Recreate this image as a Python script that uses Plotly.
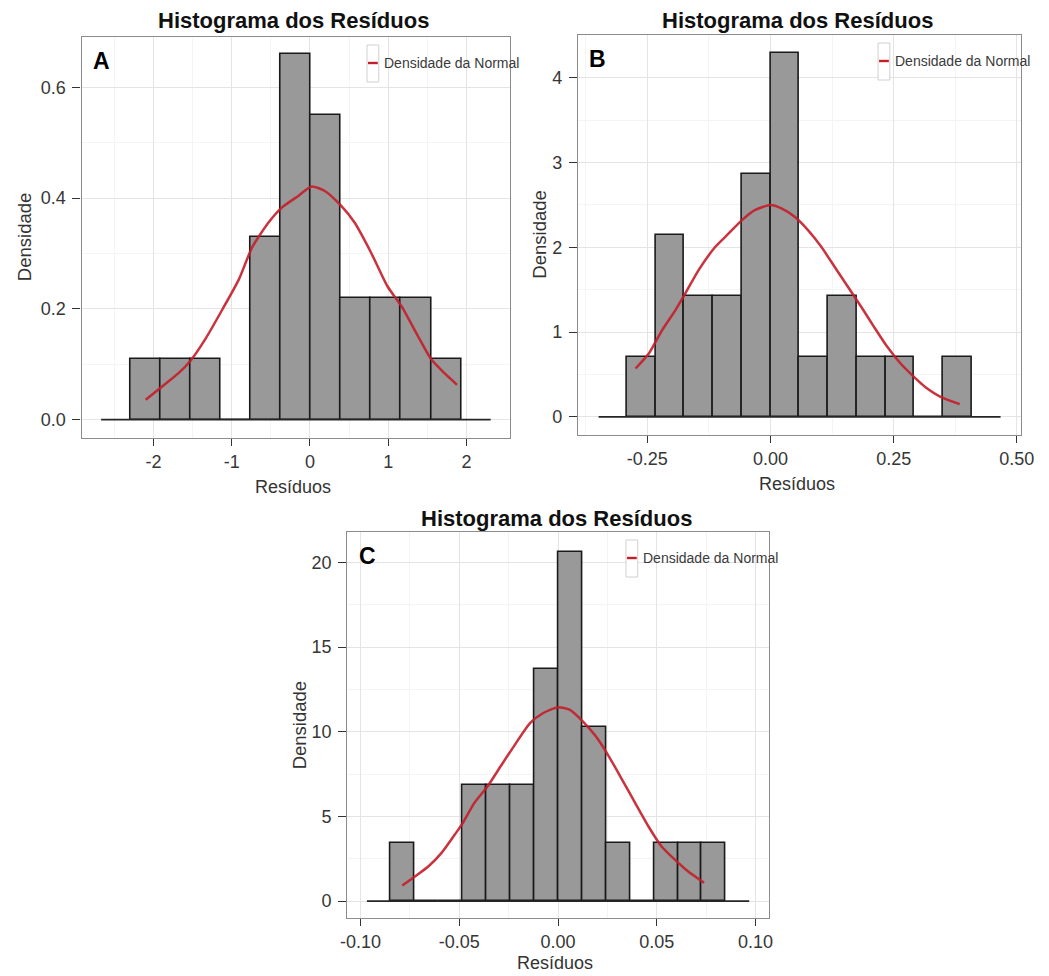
import plotly.graph_objects as go

# ---------------- data ----------------
# Panel A
edges_A = [-2.296, -1.912, -1.527, -1.143, -0.758, -0.374, 0.011, 0.395, 0.780, 1.164, 1.549, 1.933]
dens_A = [0.11, 0.11, 0.11, 0.0, 0.33, 0.66, 0.55, 0.22, 0.22, 0.22, 0.11]
curve_x_A = [-2.10, -1.89, -1.68, -1.53, -1.34, -1.12, -0.91, -0.74, -0.53, -0.36, -0.15, 0.02,
             0.19, 0.40, 0.57, 0.78, 0.99, 1.17, 1.38, 1.55, 1.72, 1.88]
curve_y_A = [0.036, 0.060, 0.084, 0.106, 0.145, 0.199, 0.253, 0.311, 0.356, 0.383, 0.404, 0.421,
             0.413, 0.386, 0.356, 0.302, 0.241, 0.205, 0.151, 0.109, 0.084, 0.063]
base_A = [-2.67, 2.31]
xticks_A = [-2, -1, 0, 1, 2]
xtick_text_A = ["-2", "-1", "0", "1", "2"]
yticks_A = [0.0, 0.2, 0.4, 0.6]
ytick_text_A = ["0.0", "0.2", "0.4", "0.6"]

# Panel B
edges_B = [-0.2915, -0.2332, -0.1749, -0.1166, -0.0583, 0.0, 0.0583, 0.1166, 0.1749, 0.2332,
           0.2915, 0.3498, 0.4081]
dens_B = [0.71, 2.14, 1.43, 1.43, 2.86, 4.29, 0.71, 1.43, 0.71, 0.71, 0.0, 0.71]
curve_x_B = [-0.274, -0.247, -0.220, -0.193, -0.173, -0.146, -0.112, -0.085, -0.058, -0.032, 0.0,
             0.022, 0.049, 0.076, 0.103, 0.130, 0.157, 0.184, 0.210, 0.237, 0.264, 0.291, 0.318,
             0.345, 0.384]
curve_y_B = [0.570, 0.747, 1.023, 1.259, 1.456, 1.731, 2.006, 2.163, 2.321, 2.439, 2.498,
             2.459, 2.360, 2.203, 2.006, 1.770, 1.534, 1.298, 1.062, 0.826, 0.629, 0.472, 0.334,
             0.236, 0.150]
base_B = [-0.349, 0.467]
xticks_B = [-0.25, 0.0, 0.25, 0.5]
xtick_text_B = ["-0.25", "0.00", "0.25", "0.50"]
yticks_B = [0, 1, 2, 3, 4]
ytick_text_B = ["0", "1", "2", "3", "4"]

# Panel C
edges_C = [-0.0849, -0.0728, -0.0607, -0.0486, -0.0364, -0.0243, -0.0121, 0.0, 0.0121, 0.0243,
           0.0364, 0.0486, 0.0607, 0.0728, 0.0849]
dens_C = [3.43, 0.0, 0.0, 6.86, 6.86, 6.86, 13.7, 20.6, 10.3, 3.43, 0.0, 3.43, 3.43, 3.43]
curve_x_C = [-0.0789, -0.0723, -0.0656, -0.0590, -0.0523, -0.0482, -0.0424, -0.0357, -0.0291,
             -0.0224, -0.0141, -0.0075, 0.0, 0.0058, 0.0125, 0.0191, 0.0257, 0.0324, 0.0390,
             0.0457, 0.0523, 0.0590, 0.0656, 0.0739]
curve_y_C = [0.92, 1.47, 2.06, 2.85, 3.93, 4.62, 5.80, 6.78, 7.96, 9.14, 10.52, 11.11, 11.45,
             11.31, 10.62, 9.73, 8.55, 7.18, 5.80, 4.42, 3.24, 2.46, 1.77, 1.08]
base_C = [-0.0968, 0.0968]
xticks_C = [-0.10, -0.05, 0.0, 0.05, 0.10]
xtick_text_C = ["-0.10", "-0.05", "0.00", "0.05", "0.10"]
yticks_C = [0, 5, 10, 15, 20]
ytick_text_C = ["0", "5", "10", "15", "20"]

title_text = "Histograma dos Resíduos"
x_label = "Resíduos"
y_label = "Densidade"
legend_label = "Densidade da Normal"

# ---------------- layout helpers ----------------
W, H = 1049, 976
FONT = "Liberation Sans, Arial, Helvetica, sans-serif"
BAR_FILL = "#999999"
BAR_EDGE = "#1a1a1a"
RED = "#C41E2A"


def fx(p):
    return p / W


def fy(p):
    return 1 - p / H


panels = [
    dict(key="A", edges=edges_A, dens=dens_A, cx=curve_x_A, cy=curve_y_A, base=base_A,
         xt=xticks_A, xtt=xtick_text_A, yt=yticks_A, ytt=ytick_text_A,
         box=(76, 513, 37, 438), xr=[-2.92, 2.56], yr=[-0.033, 0.691],
         xminor=[-2.5, -1.5, -0.5, 0.5, 1.5], yminor=[0.1, 0.3, 0.5],
         title_y=21, xt_y=487, yt_x=18),
    dict(key="B", edges=edges_B, dens=dens_B, cx=curve_x_B, cy=curve_y_B, base=base_B,
         xt=xticks_B, xtt=xtick_text_B, yt=yticks_B, ytt=ytick_text_B,
         box=(582, 1034, 35, 435), xr=[-0.391, 0.509], yr=[-0.2145, 4.5045],
         xminor=[-0.375, -0.125, 0.125, 0.375], yminor=[0.5, 1.5, 2.5, 3.5],
         title_y=21, xt_y=484, yt_x=542),
    dict(key="C", edges=edges_C, dens=dens_C, cx=curve_x_C, cy=curve_y_C, base=base_C,
         xt=xticks_C, xtt=xtick_text_C, yt=yticks_C, ytt=ytick_text_C,
         box=(347, 777, 532, 918), xr=[-0.1067, 0.1069], yr=[-1.0, 21.8],
         xminor=[-0.075, -0.025, 0.025, 0.075], yminor=[2.5, 7.5, 12.5, 17.5],
         title_y=518, xt_y=963, yt_x=298),
]

fig = go.Figure()
annotations = []
shapes = []

for i, p in enumerate(panels):
    n = "" if i == 0 else str(i + 1)
    xa, ya = "x" + n, "y" + n
    edges = p["edges"]
    mids = [(a + b) / 2 for a, b in zip(edges[:-1], edges[1:])]
    widths = [b - a for a, b in zip(edges[:-1], edges[1:])]

    fig.add_trace(go.Bar(x=mids, y=p["dens"], width=widths, xaxis=xa, yaxis=ya,
                         marker=dict(color=BAR_FILL, line=dict(color=BAR_EDGE, width=1.6)),
                         showlegend=False, hoverinfo="x+y"))
    fig.add_trace(go.Scatter(x=p["base"], y=[0, 0], mode="lines", xaxis=xa, yaxis=ya,
                             line=dict(color="#262626", width=1.7), showlegend=False,
                             hoverinfo="skip"))
    fig.add_trace(go.Scatter(x=p["cx"], y=p["cy"], mode="lines", xaxis=xa, yaxis=ya,
                             line=dict(color=RED, width=2.5, shape="spline", smoothing=0.6),
                             opacity=0.9, name=legend_label, showlegend=False))

    left, right, top, bottom = p["box"]
    axis_common = dict(showline=True, mirror=True, linecolor="#8c8c8c", linewidth=1.3,
                       showgrid=True, gridcolor="#E4E4E4", gridwidth=1, zeroline=False,
                       ticks="outside", tickwidth=1.4, tickcolor="#333333",
                       tickfont=dict(family=FONT, size=18, color="#363636"),
                       fixedrange=True)
    fig.layout["xaxis" + n] = dict(
        domain=[fx(left), fx(right)], anchor=ya, range=p["xr"], ticklen=7,
        tickmode="array", tickvals=p["xt"], ticktext=p["xtt"],
        minor=dict(tickvals=p["xminor"], showgrid=True, gridcolor="#F4F4F4", ticks=""),
        **axis_common)
    fig.layout["yaxis" + n] = dict(
        domain=[fy(bottom), fy(top)], anchor=xa, range=p["yr"], ticklen=8,
        ticklabelstandoff=3,
        tickmode="array", tickvals=p["yt"], ticktext=p["ytt"],
        minor=dict(tickvals=p["yminor"], showgrid=True, gridcolor="#F4F4F4", ticks=""),
        **axis_common)

    cxp = (left + right) / 2
    cyp = (top + bottom) / 2
    # panel title
    annotations.append(dict(text="<b>%s</b>" % title_text, x=fx(cxp - 2), y=fy(p["title_y"]),
                            xref="paper", yref="paper", showarrow=False,
                            xanchor="center", yanchor="middle",
                            font=dict(family=FONT, size=22, color="#111111")))
    # axis titles
    annotations.append(dict(text=x_label, x=fx(cxp - 3), y=fy(p["xt_y"]), xref="paper",
                            yref="paper", showarrow=False, xanchor="center", yanchor="middle",
                            font=dict(family=FONT, size=18, color="#333333")))
    annotations.append(dict(text=y_label, x=fx(p["yt_x"]), y=fy(cyp), xref="paper",
                            yref="paper", showarrow=False, xanchor="center", yanchor="middle",
                            textangle=-90, font=dict(family=FONT, size=18.5, color="#333333")))
    # panel letter
    annotations.append(dict(text="<b>%s</b>" % p["key"], x=fx(left + 20), y=fy(top + 24),
                            xref="paper", yref="paper", showarrow=False,
                            xanchor="center", yanchor="middle",
                            font=dict(family=FONT, size=23, color="#000000")))

    # legend key and label
    kl = right - 146
    kt = top + 8
    shapes.append(dict(type="rect", xref="paper", yref="paper",
                       x0=fx(kl), x1=fx(kl + 12), y0=fy(kt + 37), y1=fy(kt),
                       fillcolor="white", line=dict(color="#D0D0D0", width=1)))
    shapes.append(dict(type="line", xref="paper", yref="paper",
                       x0=fx(kl + 1), x1=fx(kl + 11), y0=fy(kt + 18), y1=fy(kt + 18),
                       line=dict(color=RED, width=2.4)))
    annotations.append(dict(text=legend_label, x=fx(kl + 15), y=fy(kt + 18), xref="paper",
                            yref="paper", showarrow=False, xanchor="left", yanchor="middle",
                            font=dict(family=FONT, size=14, color="#3a3a3a")))

fig.update_layout(
    width=W, height=H,
    margin=dict(l=0, r=0, t=0, b=0),
    paper_bgcolor="white", plot_bgcolor="white",
    bargap=0, showlegend=False,
    annotations=annotations, shapes=shapes,
    font=dict(family=FONT),
)

fig.write_html("out.html", config={"displayModeBar": False})
